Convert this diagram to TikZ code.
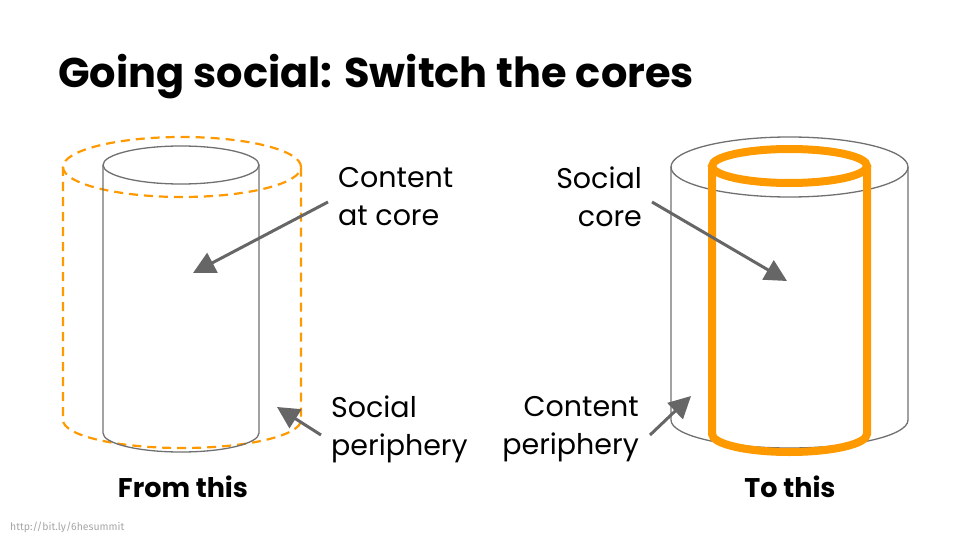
\documentclass[tikz,border=0pt]{standalone}
\usepackage{fontspec}
\setmainfont{Poppins}
\newfontfamily\footfont{Fira Sans}
\usetikzlibrary{arrows.meta}
\definecolor{slideorange}{HTML}{FF9900}
\definecolor{pointergray}{HTML}{666666}
\definecolor{shellgray}{HTML}{707070}

\begin{document}
\begin{tikzpicture}[x=1pt, y=-1pt,
  pointer/.style={draw=pointergray, line width=3pt, -{Triangle[length=22pt,width=22pt]}},
  note/.style={font=\fontsize{28.5}{38}\selectfont, inner sep=0pt},
  caption/.style={font=\bfseries\fontsize{27}{30}\selectfont, inner sep=0pt},
  shell/.style={draw=shellgray, line width=1.3pt},
  halo/.style={draw=slideorange, line width=2.2pt, dash pattern=on 9pt off 6pt},
  core/.style={draw=slideorange, line width=8pt}]
  \useasboundingbox (0,0) rectangle (960,540);

  % Title
  \node[anchor=base west, inner sep=0pt, font=\bfseries\fontsize{41.5}{44}\selectfont] (title) at (58,88) {Going social: Switch the cores};

  % Left: content at core, social periphery (dashed)
  \draw[halo] (182,167) ellipse [x radius=119pt, y radius=30pt];
  \draw[halo] (63,167) -- (63,420) arc[start angle=180, end angle=360, x radius=119pt, y radius=28pt] -- (301,167);
  \draw[shell, fill=white] (181,165) ellipse [x radius=78pt, y radius=19pt];
  \draw[shell] (103,165) -- (103,433) arc[start angle=180, end angle=360, x radius=78pt, y radius=19pt] -- (259,165);

  \node[note, anchor=west, align=left] (contentLbl) at (338,197) {Content\\at core};
  \node[note, anchor=west, align=left] (socialLbl) at (331,429) {Social\\periphery};
  \coordinate (coreTail) at ([xshift=-10pt,yshift=-5pt]contentLbl.west);
  \coordinate (coreTip) at (193,273);
  \coordinate (rimTail) at ([xshift=-10pt,yshift=-6pt]socialLbl.west);
  \coordinate (rimTip) at (277,407);
  \draw[pointer] (coreTail) -- (coreTip);
  \draw[pointer] (rimTail) -- (rimTip);
  \node[caption, anchor=base] (fromLbl) at (183,497) {From this};

  % Right: social core (solid orange), content periphery
  \draw[shell] (789.5,167) ellipse [x radius=118.5pt, y radius=30pt];
  \draw[shell] (671,167) -- (671,420) arc[start angle=180, end angle=360, x radius=118.5pt, y radius=28pt] -- (908,167);
  \draw[core] (789.5,166) ellipse [x radius=77.5pt, y radius=17pt];
  \draw[core] (712,166) -- (712,434) arc[start angle=180, end angle=360, x radius=77.5pt, y radius=18pt] -- (867,166);

  \node[note, anchor=east, align=right] (socialCoreLbl) at (642,197) {Social\\core};
  \node[note, anchor=east, align=right] (contentRimLbl) at (639,429) {Content\\periphery};
  \coordinate (socTail) at ([xshift=10pt,yshift=-5pt]socialCoreLbl.east);
  \coordinate (socTip) at (787,281);
  \coordinate (cntTail) at ([xshift=11pt,yshift=-6pt]contentRimLbl.east);
  \coordinate (cntTip) at (691,396);
  \draw[pointer] (socTail) -- (socTip);
  \draw[pointer] (cntTail) -- (cntTip);
  \node[caption, anchor=base] (toLbl) at (790,497) {To this};

  % Footer link
  \node[anchor=base west, inner sep=0pt, text=black!35, font=\footfont\fontsize{10.5}{12}\selectfont] (link) at (10,530) {http://bit.ly/6hesummit};
\end{tikzpicture}
\end{document}
